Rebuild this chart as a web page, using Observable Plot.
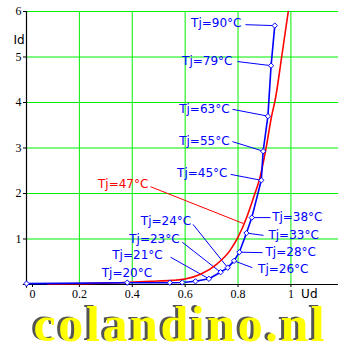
<!DOCTYPE html>
<html>
<head>
<meta charset="utf-8">
<script src="https://cdn.jsdelivr.net/npm/d3@7"></script>
<script src="https://cdn.jsdelivr.net/npm/@observablehq/plot@0.6"></script>
<style>
  html, body { margin: 0; padding: 0; background: #fff; }
  #chart svg { display: block; background: #fff; }
</style>
</head>
<body>
<div id="chart"></div>
<script>
// ---- data ----
const xTicks = [0, 0.2, 0.4, 0.6, 0.8, 1];
const yTicks = [1, 2, 3, 4, 5, 6];

// red curve (Tj = 47 °C)
const redUd = [0.08, 0.22, 0.35, 0.47, 0.55, 0.60, 0.66, 0.72, 0.77, 0.80, 0.833, 0.858, 0.883, 0.904, 0.927, 0.942, 0.965, 0.99];
const redId = [0.01, 0.02, 0.04, 0.07, 0.09, 0.12, 0.23, 0.45, 0.75, 1.04, 1.48, 1.90, 2.35, 2.93, 3.70, 4.10, 5.00, 6.00];

// blue measured points
const blueUd = [0, 0.381, 0.542, 0.589, 0.639, 0.690, 0.734, 0.761, 0.785, 0.805, 0.832, 0.852, 0.888, 0.895, 0.913, 0.925, 0.939];
const blueId = [0.02, 0.04, 0.04, 0.045, 0.07, 0.125, 0.27, 0.37, 0.52, 0.71, 1.13, 1.47, 2.29, 2.93, 3.70, 4.81, 5.69];

// annotations
const labelText  = ["Tj=90°C","Tj=79°C","Tj=63°C","Tj=55°C","Tj=45°C","Tj=47°C","Tj=38°C","Tj=33°C","Tj=28°C","Tj=26°C","Tj=24°C","Tj=23°C","Tj=21°C","Tj=20°C"];
const labelSeries= ["blue","blue","blue","blue","blue","red","blue","blue","blue","blue","blue","blue","blue","blue"];
const labelSide  = ["end","end","end","end","end","end","start","start","start","start","end","end","end","end"];
const labelUd    = [0.813, 0.779, 0.768, 0.768, 0.760, 0.461, 0.929, 0.915, 0.904, 0.876, 0.623, 0.579, 0.515, 0.475];
const labelId    = [5.74, 4.90, 3.86, 3.16, 2.44, 2.20, 1.47, 1.08, 0.71, 0.345, 1.39, 0.99, 0.65, 0.26];
const leadFromUd = [0.828, 0.798, 0.779, 0.779, 0.772, 0.469, 0.923, 0.896, 0.893, 0.854, 0.630, 0.589, 0.545, null];
const leadFromId = [5.71, 4.90, 3.85, 3.14, 2.42, 2.15, 1.47, 1.08, 0.70, 0.37, 1.32, 0.93, 0.60, null];
const leadToUd   = [0.939, 0.925, 0.913, 0.895, 0.888, 0.82, 0.852, 0.832, 0.805, 0.785, 0.761, 0.734, 0.690, null];
const leadToId   = [5.69, 4.81, 3.70, 2.93, 2.29, 1.34, 1.47, 1.13, 0.71, 0.52, 0.37, 0.27, 0.125, null];

const logoText = "colandino.nl";

// ---- tables ----
const red = redUd.map((x, i) => ({x, y: redId[i]}));
const blue = blueUd.map((x, i) => ({x, y: blueId[i]}));
const labels = labelText.map((t, i) => ({
  t, s: labelSeries[i], side: labelSide[i], x: labelUd[i], y: labelId[i],
  x1: leadFromUd[i], y1: leadFromId[i], x2: leadToUd[i], y2: leadToId[i]
}));
const leads = labels.filter(d => d.x1 != null);
const colors = {blue: "#0000ff", red: "#ff0000"};
const GREEN = "#00ee00";
const tickFont = "Liberation Serif, Times New Roman, serif";

const chart = Plot.plot({
  width: 345,
  height: 345,
  marginLeft: 26,
  marginRight: 7,
  marginTop: 11,
  marginBottom: 61,
  x: {domain: [0, 1.18]},
  y: {domain: [0, 6]},
  style: {background: "#fff", overflow: "visible"},
  marks: [
    // grid
    Plot.ruleX(xTicks.slice(1), {y1: 0, y2: 6, stroke: GREEN, strokeWidth: 1}),
    Plot.ruleY(yTicks, {x1: 0, x2: 1.18, stroke: GREEN, strokeWidth: 1}),
    // axes
    Plot.axisY({ticks: yTicks, tickSize: 3, tickPadding: 2, tickFormat: d => String(d), fontFamily: tickFont, fontSize: 12, fill: "#000", stroke: "#000"}),
    Plot.axisX({ticks: xTicks.slice(1), tickSize: 3, tickPadding: 2, tickFormat: d => String(+d.toFixed(1)), fontFamily: tickFont, fontSize: 12, fill: "#000", stroke: "#000"}),
    Plot.axisX({ticks: [0], tickSize: 3, tickPadding: 2, dx: 6, tickFormat: d => String(d), fontFamily: tickFont, fontSize: 12, fill: "#000", stroke: "#000"}),
    Plot.ruleX([0], {y1: -0.08, y2: 6, stroke: "#000", strokeWidth: 1.2}),
    Plot.ruleY([0], {x1: -0.012, x2: 1.18, stroke: "#000", strokeWidth: 1.2}),
    // axis titles
    Plot.text(["Id"], {frameAnchor: "top-left", dx: -13, dy: 24, fontFamily: "DejaVu Sans", fontSize: 12, fill: "#000"}),
    Plot.text(["Ud"], {frameAnchor: "bottom-right", dx: -21, dy: 13, fontFamily: "DejaVu Sans", fontSize: 12, fill: "#000"}),
    // leader lines
    Plot.link(leads, {x1: "x1", y1: "y1", x2: "x2", y2: "y2", stroke: d => colors[d.s], strokeWidth: 1}),
    // curves
    Plot.line(red, {x: "x", y: "y", stroke: colors.red, strokeWidth: 1.6, curve: "monotone-x"}),
    Plot.line(blue, {x: "x", y: "y", stroke: colors.blue, strokeWidth: 1.6}),
    Plot.dot(blue, {x: "x", y: "y", symbol: "diamond2", r: 2.4, stroke: colors.blue, fill: "#fff", strokeWidth: 1}),
    // labels
    Plot.text(labels.filter(d => d.side === "end"), {x: "x", y: "y", text: "t", fill: d => colors[d.s], textAnchor: "end", lineAnchor: "middle", fontFamily: "DejaVu Sans", fontSize: 12}),
    Plot.text(labels.filter(d => d.side === "start"), {x: "x", y: "y", text: "t", fill: d => colors[d.s], textAnchor: "start", lineAnchor: "middle", fontFamily: "DejaVu Sans", fontSize: 12}),
    // logo
    Plot.text([logoText], {frameAnchor: "bottom-left", dx: 4, dy: 39.5, textAnchor: "start", lineAnchor: "middle", fontFamily: "Liberation Serif", fontWeight: "bold", fontSize: 50, fill: "#555"}),
    Plot.text([logoText], {frameAnchor: "bottom-left", dx: 7, dy: 40.5, textAnchor: "start", lineAnchor: "middle", fontFamily: "Liberation Serif", fontWeight: "bold", fontSize: 50, fill: "#ffff00"})
  ]
});

d3.select(chart).selectAll("text")
  .filter(function () { return this.textContent === logoText; })
  .attr("letter-spacing", "2.6px");

document.getElementById("chart").appendChild(chart);
</script>
</body>
</html>
